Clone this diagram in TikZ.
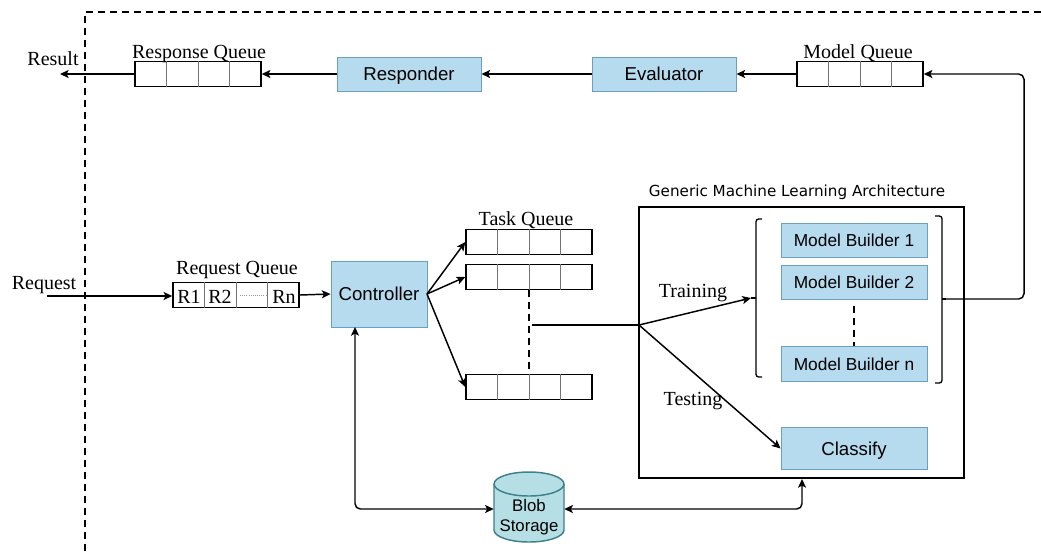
\documentclass[tikz,border=0pt]{standalone}
\usepackage{fontspec}
\setmainfont{Liberation Serif}
\setsansfont{Liberation Sans}
\newfontfamily\titlefont{DejaVu Sans}
\usepackage{tikz}
\usetikzlibrary{arrows.meta,calc}

\definecolor{compfill}{HTML}{B6DAEE}
\definecolor{compline}{HTML}{6C9EBE}
\definecolor{blobfill}{HTML}{B5DFE5}
\definecolor{blobline}{HTML}{3F808E}

\tikzset{
	queue/.style={draw,line width=1.1pt,minimum width=94.5pt,minimum height=19pt,inner sep=0pt},
	divider/.style={draw=black!55,line width=0.6pt},
	comp/.style={draw=compline,fill=compfill,line width=0.7pt,inner sep=0pt,font=\sffamily\fontsize{13}{15}\selectfont},
	bigcomp/.style={text depth=0pt,font=\sffamily\fontsize{14}{16}\selectfont},
	serif/.style={inner sep=0pt,font=\fontsize{15}{17}\selectfont}
}

\begin{document}
\begin{tikzpicture}[x=0.75pt,y=-0.75pt]
		\useasboundingbox (0,0) rectangle (1041,551);

		% queues
		\foreach \name/\x/\y in {respq/198/74, modelq/860/74, reqq/236/295, taskqa/529/242, taskqb/529/277, taskqc/529/387}
			\node[queue] (\name) at (\x,\y) {};
		\foreach \name in {respq,modelq,reqq,taskqa,taskqb,taskqc}
			\foreach \f in {0.25,0.5,0.75}
				\draw[divider] ($(\name.north west)!\f!(\name.north east)$) -- ($(\name.south west)!\f!(\name.south east)$);

		% blue boxes
		\begin{scope}[every node/.style={comp}]
			\node[bigcomp,minimum width=108pt,minimum height=25.5pt] (responder) at (409,74) {Responder};
			\node[bigcomp,minimum width=108pt,minimum height=25.5pt] (evaluator) at (664,74) {Evaluator};
			\node[bigcomp,minimum width=72pt,minimum height=49.5pt] (ctrl) at (379,294) {Controller};
			\node[minimum width=109.5pt,minimum height=26pt] (mb1) at (854,240.5) {Model Builder 1};
			\node[minimum width=109.5pt,minimum height=26pt] (mb2) at (854,282.5) {Model Builder 2};
			\node[minimum width=109.5pt,minimum height=26pt] (mbn) at (854,364) {Model Builder n};
			\node[bigcomp,minimum width=109.5pt,minimum height=31pt] (classify) at (854,448.5) {Classify};
		\end{scope}

		\node[draw,line width=1.1pt,minimum width=243.5pt,minimum height=203pt,inner sep=0pt] (arch) at (801.5,342.5) {};

		% blob store
		\coordinate (blobtl) at (494,484);
		\draw[blobline,fill=blobfill,line width=1.1pt] (blobtl) arc[start angle=180,end angle=0,x radius=26.25pt,y radius=9pt]
			-- (564,530) arc[start angle=0,end angle=-180,x radius=26.25pt,y radius=9pt] -- cycle;
		\draw[blobline,line width=1.1pt] (blobtl) arc[start angle=180,end angle=360,x radius=26.25pt,y radius=9pt];
		\node[inner sep=0pt,minimum width=52.5pt,minimum height=52.5pt] (blob) at (529,509) {};

		% labels
		\begin{scope}[every node/.style={serif}]
			\node (result) at (53,59) {Result};
			\node (resplabel) at (199,54) {Response Queue};
			\node (modellabel) at (858,53) {Model Queue};
			\node (request) at (44,285) {Request};
			\node (reqlabel) at (237,270) {Request Queue};
			\node (tasklabel) at (526,220) {Task Queue};
			\node (r1) at (189,297) {R1};
			\node (r2) at (220,297) {R2};
			\node (rn) at (284,297) {Rn};
			\node (training) at (693,293) {Training};
			\node (testing) at (693,401) {Testing};
		\end{scope}
		\node[inner sep=0pt,font=\titlefont\fontsize{11.4}{13}\selectfont] (archlabel) at (797,192) {Generic Machine Learning Architecture};
		\node[inner sep=0pt,align=center,font=\sffamily\fontsize{12.6}{15}\selectfont] (bloblabel) at (529,517) {Blob\\Storage};

		% free ends and bends
		\coordinate (resultend) at (60,74);
		\coordinate (reqstart) at (47,296);
		\coordinate (ctrlout) at (427,294);
		\coordinate (tasktap) at (532,325);
		\coordinate (split) at (639,325);
		\coordinate (trainend) at (751,298);
		\coordinate (brktout) at (946,299);
		\coordinate (ctrlin) at (355,327);
		\coordinate (archin) at (802,479);

		% brackets
		\draw[line width=1pt,rounded corners=2pt] (762,219) -- (756,219) -- (756,377) -- (762,377);
		\draw[line width=1pt] (756,298) -- (751,298);
		\draw[line width=1pt,rounded corners=2pt] (935,216) -- (942,216) -- (942,383) -- (935,383);
		\draw[line width=1pt] (942,299) -- (946,299);

		% dashed lines
		\begin{scope}[line width=1.1pt,dash pattern=on 5pt off 4pt]
			\draw (85,551) -- (85,12) -- (1041,12);
			\draw (taskqb.south) -- (taskqc.north);
			\draw (mb2.south |- 0,306) -- (mbn.north);
		\end{scope}
		\draw[black!40,densely dotted,line width=0.6pt] (240,295) -- (266,295);

		\begin{scope}[>={Stealth[black,length=6.5pt,width=6pt,inset=1.5pt]},line width=1.1pt]
			\path [->,draw] (respq.west) -- (resultend);
			\path [->,draw] (responder.west) -- (respq.east);
			\path [->,draw] (evaluator.west) -- (responder.east);
			\path [->,draw] (modelq.west) -- (evaluator.east);
			\path [->,draw,rounded corners=4pt] (brktout) -| (1024,74) -- (modelq.east);

			\path [->,draw] (reqstart) -- (reqstart -| reqq.west);
			\path [->,draw] (reqq.east) -- (ctrl.west);
			\path [->,draw] (ctrlout) -- (taskqa.west);
			\path [->,draw] (ctrlout) -- (taskqb.west);
			\path [->,draw] (ctrlout) -- (taskqc.west);

			\path [draw] (tasktap) -- (split);
			\path [->,draw] (split) -- (trainend);
			\path [->,draw] (split) -- (classify.west);

			\path [<->,draw,rounded corners=4pt] (ctrlin) |- (blob.west);
			\path [<->,draw,rounded corners=4pt] (blob.east) -| (archin);
		\end{scope}
		\end{tikzpicture}
\end{document}
